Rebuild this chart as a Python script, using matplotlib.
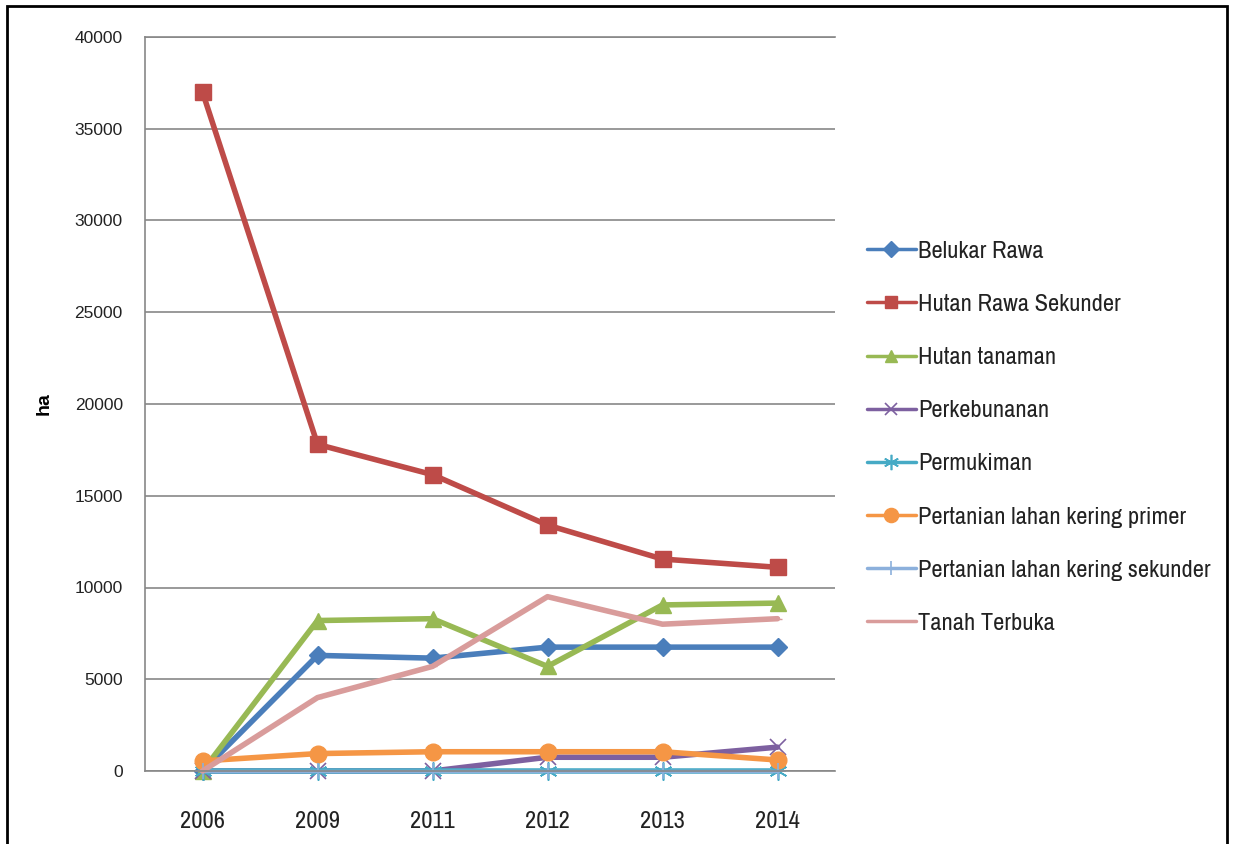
import matplotlib.pyplot as plt
from matplotlib import font_manager
from matplotlib.patches import Rectangle
import numpy as np

years = ["2006", "2009", "2011", "2012", "2013", "2014"]

belukar_rawa = [0, 6300, 6150, 6750, 6750, 6750]
hutan_rawa_sekunder = [37000, 17800, 16150, 13400, 11550, 11100]
hutan_tanaman = [0, 8200, 8300, 5700, 9050, 9150]
perkebunanan = [0, 0, 0, 750, 750, 1300]
permukiman = [0, 0, 0, 0, 0, 0]
pertanian_primer = [550, 950, 1050, 1050, 1050, 600]
pertanian_sekunder = [0, 0, 0, 0, 0, 0]
tanah_terbuka = [0, 4000, 5700, 9500, 8000, 8300]

series = [
    ("Belukar Rawa", belukar_rawa, "#4A7EBB", "D", 9),
    ("Hutan Rawa Sekunder", hutan_rawa_sekunder, "#BE4B48", "s", 11),
    ("Hutan tanaman", hutan_tanaman, "#98B954", "^", 11),
    ("Perkebunanan", perkebunanan, "#7D60A0", "x", 11),
    ("Permukiman", permukiman, "#46AAC5", (6, 2, 0), 13),
    ("Pertanian lahan kering primer", pertanian_primer, "#F59645", "o", 12),
    ("Pertanian lahan kering sekunder", pertanian_sekunder, "#8CB0DC", "+", 12),
    ("Tanah Terbuka", tanah_terbuka, "#D99C9B", "_", 6),
]

# pick a narrow sans if one is installed, else plain Liberation Sans
names = sorted({f.name for f in font_manager.fontManager.ttflist})
narrow = [n for n in names if "Narrow" in n or "Condensed" in n]
label_font = narrow[0] if narrow else "Liberation Sans"
label_size = 17.6 if narrow else 14
plt.rcParams["font.family"] = [label_font, "DejaVu Sans"]

fig = plt.figure(figsize=(12.33, 8.44), dpi=100)
ax = fig.add_axes([145 / 1233, 1 - 771 / 844, 690 / 1233, 734 / 844])

x = np.arange(len(years))
for name, vals, color, marker, ms in series:
    thin = marker in ("x", "+", (6, 2, 0))
    ax.plot(x, vals, color=color, lw=4 if name != "Pertanian lahan kering sekunder" else 2.5,
            marker=marker, markersize=ms, markeredgewidth=1.2 if thin else 1,
            markeredgecolor=color, label=name, solid_capstyle="round", clip_on=False)

ax.set_xlim(-0.5, len(years) - 0.5)
ax.set_ylim(0, 40000)
ax.set_yticks(np.arange(0, 40001, 5000))
ax.set_yticklabels([str(v) for v in range(0, 40001, 5000)], fontfamily="Liberation Sans",
                   fontsize=12.5, color="#222222")
ax.set_xticks(x)
ax.set_xticklabels(years, fontsize=label_size, color="#222222")
ax.tick_params(length=0)
ax.tick_params(axis="y", pad=16)
ax.tick_params(axis="x", pad=29)
ax.yaxis.grid(True, color="#878787", lw=1.2)
ax.set_axisbelow(True)
ax.spines["right"].set_visible(False)
for side in ("left", "bottom", "top"):
    ax.spines[side].set_color("#878787")
    ax.spines[side].set_linewidth(1.2)
ax.set_ylabel("ha", fontfamily="Liberation Sans", fontweight="bold", fontsize=14, labelpad=16)

leg = fig.legend(loc="upper left", bbox_to_anchor=(857 / 1233, 1 - 231 / 844), frameon=False,
                 fontsize=label_size, labelspacing=1.31 if narrow else 1.6,
                 handlelength=2.0, handletextpad=0.1, borderaxespad=0)
for t in leg.get_texts():
    t.set_color("#222222")
for h in leg.legend_handles:
    h.set_linewidth(2.5)
    h.set_markersize(h.get_markersize() * 0.85)

fig.patches.append(Rectangle((7 / 1233, -0.01), 1220 / 1233, 1.01 - 6 / 844,
                             transform=fig.transFigure, fill=False, ec="black", lw=2))

fig.savefig("out.png", dpi=100)
